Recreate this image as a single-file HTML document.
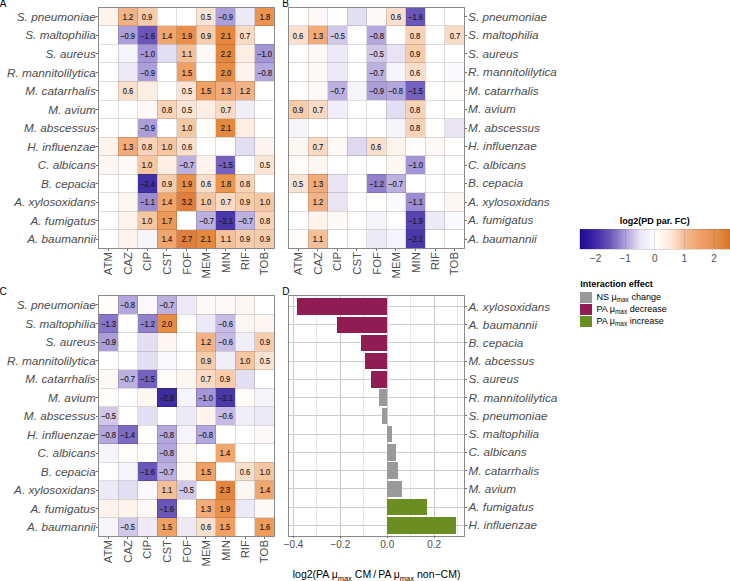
<!DOCTYPE html><html><head><meta charset="utf-8"><style>
html,body{margin:0;padding:0;background:#fff;}
body{width:730px;height:581px;position:relative;overflow:hidden;font-family:"Liberation Sans",sans-serif;}
.cell{position:absolute;box-sizing:border-box;padding-top:0.6px;font-size:8.6px;line-height:18.523076923076925px;text-align:center;color:#1a1a1a;white-space:nowrap;}
.pborder{position:absolute;border:1px solid #8a8a8a;box-sizing:border-box;}
.tickh{position:absolute;width:2.0px;height:1px;background:#6e6e6e;}
.tickv{position:absolute;width:1px;height:2.2px;background:#6e6e6e;}
.ylab{position:absolute;font-size:11.75px;line-height:16px;font-style:italic;color:#4d4d4d;white-space:nowrap;text-align:right;}
.xlab{position:absolute;font-size:11.4px;line-height:16px;color:#4d4d4d;white-space:nowrap;transform-origin:100% 50%;transform:rotate(-90deg);}
.cell i{font-style:normal;display:inline-block;transform:scaleX(0.88);-webkit-text-stroke:0.15px #1a1a1a;}
.gl{position:absolute;background:rgba(0,0,0,0.13);}
.plab{position:absolute;font-size:10px;line-height:10px;color:#000;}
</style></head><body>

<div class="plab" style="left:-0.3px;top:-0.9px;">A</div>
<div class="plab" style="left:282.3px;top:-0.9px;">B</div>
<div class="plab" style="left:-0.5px;top:287.2px;">C</div>
<div class="plab" style="left:282.3px;top:287.2px;">D</div>
<div style="position:absolute;left:98.6px;top:7.4px;width:175.8px;height:240.8px;">
<div class="cell" style="left:0.00px;top:0.00px;width:19.53px;height:18.52px;background:#fef4ed"></div>
<div class="cell" style="left:19.53px;top:0.00px;width:19.53px;height:18.52px;background:#f2b287"><i>1.2</i></div>
<div class="cell" style="left:39.07px;top:0.00px;width:19.53px;height:18.52px;background:#f6ccaa"><i>0.9</i></div>
<div class="cell" style="left:58.60px;top:0.00px;width:19.53px;height:18.52px;background:#ffffff"></div>
<div class="cell" style="left:78.13px;top:0.00px;width:19.53px;height:18.52px;background:#ffffff"></div>
<div class="cell" style="left:97.67px;top:0.00px;width:19.53px;height:18.52px;background:#fbe4d4"><i>0.5</i></div>
<div class="cell" style="left:117.20px;top:0.00px;width:19.53px;height:18.52px;background:#ac9fd9"><i>−0.9</i></div>
<div class="cell" style="left:136.73px;top:0.00px;width:19.53px;height:18.52px;background:#ede9f6"></div>
<div class="cell" style="left:156.27px;top:0.00px;width:19.53px;height:18.52px;background:#ea9450"><i>1.8</i></div>
<div class="cell" style="left:0.00px;top:18.52px;width:19.53px;height:18.52px;background:#ffffff"></div>
<div class="cell" style="left:19.53px;top:18.52px;width:19.53px;height:18.52px;background:#ac9fd9"><i>−0.9</i></div>
<div class="cell" style="left:39.07px;top:18.52px;width:19.53px;height:18.52px;background:#6a55b8"><i>−1.6</i></div>
<div class="cell" style="left:58.60px;top:18.52px;width:19.53px;height:18.52px;background:#f1a66e"><i>1.4</i></div>
<div class="cell" style="left:78.13px;top:18.52px;width:19.53px;height:18.52px;background:#e8904a"><i>1.9</i></div>
<div class="cell" style="left:97.67px;top:18.52px;width:19.53px;height:18.52px;background:#f6ccaa"><i>0.9</i></div>
<div class="cell" style="left:117.20px;top:18.52px;width:19.53px;height:18.52px;background:#e4883e"><i>2.1</i></div>
<div class="cell" style="left:136.73px;top:18.52px;width:19.53px;height:18.52px;background:#f9dac4"><i>0.7</i></div>
<div class="cell" style="left:156.27px;top:18.52px;width:19.53px;height:18.52px;background:#ffffff"></div>
<div class="cell" style="left:0.00px;top:37.05px;width:19.53px;height:18.52px;background:#ffffff"></div>
<div class="cell" style="left:19.53px;top:37.05px;width:19.53px;height:18.52px;background:#f6f4fb"></div>
<div class="cell" style="left:39.07px;top:37.05px;width:19.53px;height:18.52px;background:#a496d6"><i>−1.0</i></div>
<div class="cell" style="left:58.60px;top:37.05px;width:19.53px;height:18.52px;background:#e4def2"></div>
<div class="cell" style="left:78.13px;top:37.05px;width:19.53px;height:18.52px;background:#f4c09a"><i>1.1</i></div>
<div class="cell" style="left:97.67px;top:37.05px;width:19.53px;height:18.52px;background:#fef9f6"></div>
<div class="cell" style="left:117.20px;top:37.05px;width:19.53px;height:18.52px;background:#e3873e"><i>2.2</i></div>
<div class="cell" style="left:136.73px;top:37.05px;width:19.53px;height:18.52px;background:#fdeee4"></div>
<div class="cell" style="left:156.27px;top:37.05px;width:19.53px;height:18.52px;background:#a496d6"><i>−1.0</i></div>
<div class="cell" style="left:0.00px;top:55.57px;width:19.53px;height:18.52px;background:#ffffff"></div>
<div class="cell" style="left:19.53px;top:55.57px;width:19.53px;height:18.52px;background:#ede9f6"></div>
<div class="cell" style="left:39.07px;top:55.57px;width:19.53px;height:18.52px;background:#ac9fd9"><i>−0.9</i></div>
<div class="cell" style="left:58.60px;top:55.57px;width:19.53px;height:18.52px;background:#ffffff"></div>
<div class="cell" style="left:78.13px;top:55.57px;width:19.53px;height:18.52px;background:#f0a062"><i>1.5</i></div>
<div class="cell" style="left:97.67px;top:55.57px;width:19.53px;height:18.52px;background:#ffffff"></div>
<div class="cell" style="left:117.20px;top:55.57px;width:19.53px;height:18.52px;background:#e68c44"><i>2.0</i></div>
<div class="cell" style="left:136.73px;top:55.57px;width:19.53px;height:18.52px;background:#fef4ed"></div>
<div class="cell" style="left:156.27px;top:55.57px;width:19.53px;height:18.52px;background:#b4a7dd"><i>−0.8</i></div>
<div class="cell" style="left:0.00px;top:74.09px;width:19.53px;height:18.52px;background:#ffffff"></div>
<div class="cell" style="left:19.53px;top:74.09px;width:19.53px;height:18.52px;background:#fadfcc"><i>0.6</i></div>
<div class="cell" style="left:39.07px;top:74.09px;width:19.53px;height:18.52px;background:#fdeee4"></div>
<div class="cell" style="left:58.60px;top:74.09px;width:19.53px;height:18.52px;background:#ffffff"></div>
<div class="cell" style="left:78.13px;top:74.09px;width:19.53px;height:18.52px;background:#fbe4d4"><i>0.5</i></div>
<div class="cell" style="left:97.67px;top:74.09px;width:19.53px;height:18.52px;background:#f0a062"><i>1.5</i></div>
<div class="cell" style="left:117.20px;top:74.09px;width:19.53px;height:18.52px;background:#f2ac7b"><i>1.3</i></div>
<div class="cell" style="left:136.73px;top:74.09px;width:19.53px;height:18.52px;background:#f2b287"><i>1.2</i></div>
<div class="cell" style="left:156.27px;top:74.09px;width:19.53px;height:18.52px;background:#ffffff"></div>
<div class="cell" style="left:0.00px;top:92.62px;width:19.53px;height:18.52px;background:#ffffff"></div>
<div class="cell" style="left:19.53px;top:92.62px;width:19.53px;height:18.52px;background:#ffffff"></div>
<div class="cell" style="left:39.07px;top:92.62px;width:19.53px;height:18.52px;background:#fef9f6"></div>
<div class="cell" style="left:58.60px;top:92.62px;width:19.53px;height:18.52px;background:#f8d3b7"><i>0.8</i></div>
<div class="cell" style="left:78.13px;top:92.62px;width:19.53px;height:18.52px;background:#fbe4d4"><i>0.5</i></div>
<div class="cell" style="left:97.67px;top:92.62px;width:19.53px;height:18.52px;background:#fdeee4"></div>
<div class="cell" style="left:117.20px;top:92.62px;width:19.53px;height:18.52px;background:#f9dac4"><i>0.7</i></div>
<div class="cell" style="left:136.73px;top:92.62px;width:19.53px;height:18.52px;background:#f2eef9"></div>
<div class="cell" style="left:156.27px;top:92.62px;width:19.53px;height:18.52px;background:#ffffff"></div>
<div class="cell" style="left:0.00px;top:111.14px;width:19.53px;height:18.52px;background:#ffffff"></div>
<div class="cell" style="left:19.53px;top:111.14px;width:19.53px;height:18.52px;background:#ffffff"></div>
<div class="cell" style="left:39.07px;top:111.14px;width:19.53px;height:18.52px;background:#ac9fd9"><i>−0.9</i></div>
<div class="cell" style="left:58.60px;top:111.14px;width:19.53px;height:18.52px;background:#ffffff"></div>
<div class="cell" style="left:78.13px;top:111.14px;width:19.53px;height:18.52px;background:#f5c6a2"><i>1.0</i></div>
<div class="cell" style="left:97.67px;top:111.14px;width:19.53px;height:18.52px;background:#fffcfa"></div>
<div class="cell" style="left:117.20px;top:111.14px;width:19.53px;height:18.52px;background:#e4883e"><i>2.1</i></div>
<div class="cell" style="left:136.73px;top:111.14px;width:19.53px;height:18.52px;background:#fdeee4"></div>
<div class="cell" style="left:156.27px;top:111.14px;width:19.53px;height:18.52px;background:#ffffff"></div>
<div class="cell" style="left:0.00px;top:129.66px;width:19.53px;height:18.52px;background:#fef4ed"></div>
<div class="cell" style="left:19.53px;top:129.66px;width:19.53px;height:18.52px;background:#f2ac7b"><i>1.3</i></div>
<div class="cell" style="left:39.07px;top:129.66px;width:19.53px;height:18.52px;background:#f8d3b7"><i>0.8</i></div>
<div class="cell" style="left:58.60px;top:129.66px;width:19.53px;height:18.52px;background:#f5c6a2"><i>1.0</i></div>
<div class="cell" style="left:78.13px;top:129.66px;width:19.53px;height:18.52px;background:#fadfcc"><i>0.6</i></div>
<div class="cell" style="left:97.67px;top:129.66px;width:19.53px;height:18.52px;background:#ffffff"></div>
<div class="cell" style="left:117.20px;top:129.66px;width:19.53px;height:18.52px;background:#fffdfc"></div>
<div class="cell" style="left:136.73px;top:129.66px;width:19.53px;height:18.52px;background:#e4def2"></div>
<div class="cell" style="left:156.27px;top:129.66px;width:19.53px;height:18.52px;background:#fef4ed"></div>
<div class="cell" style="left:0.00px;top:148.18px;width:19.53px;height:18.52px;background:#fef6f1"></div>
<div class="cell" style="left:19.53px;top:148.18px;width:19.53px;height:18.52px;background:#fef9f6"></div>
<div class="cell" style="left:39.07px;top:148.18px;width:19.53px;height:18.52px;background:#f5c6a2"><i>1.0</i></div>
<div class="cell" style="left:58.60px;top:148.18px;width:19.53px;height:18.52px;background:#fdeee4"></div>
<div class="cell" style="left:78.13px;top:148.18px;width:19.53px;height:18.52px;background:#bcb0e0"><i>−0.7</i></div>
<div class="cell" style="left:97.67px;top:148.18px;width:19.53px;height:18.52px;background:#fef4ed"></div>
<div class="cell" style="left:117.20px;top:148.18px;width:19.53px;height:18.52px;background:#7460bd"><i>−1.5</i></div>
<div class="cell" style="left:136.73px;top:148.18px;width:19.53px;height:18.52px;background:#ffffff"></div>
<div class="cell" style="left:156.27px;top:148.18px;width:19.53px;height:18.52px;background:#fbe4d4"><i>0.5</i></div>
<div class="cell" style="left:0.00px;top:166.71px;width:19.53px;height:18.52px;background:#ffffff"></div>
<div class="cell" style="left:19.53px;top:166.71px;width:19.53px;height:18.52px;background:#ffffff"></div>
<div class="cell" style="left:39.07px;top:166.71px;width:19.53px;height:18.52px;background:#4231a3"><i>−2.4</i></div>
<div class="cell" style="left:58.60px;top:166.71px;width:19.53px;height:18.52px;background:#f6ccaa"><i>0.9</i></div>
<div class="cell" style="left:78.13px;top:166.71px;width:19.53px;height:18.52px;background:#e8904a"><i>1.9</i></div>
<div class="cell" style="left:97.67px;top:166.71px;width:19.53px;height:18.52px;background:#fadfcc"><i>0.6</i></div>
<div class="cell" style="left:117.20px;top:166.71px;width:19.53px;height:18.52px;background:#ea9450"><i>1.8</i></div>
<div class="cell" style="left:136.73px;top:166.71px;width:19.53px;height:18.52px;background:#f8d3b7"><i>0.8</i></div>
<div class="cell" style="left:156.27px;top:166.71px;width:19.53px;height:18.52px;background:#ffffff"></div>
<div class="cell" style="left:0.00px;top:185.23px;width:19.53px;height:18.52px;background:#ffffff"></div>
<div class="cell" style="left:19.53px;top:185.23px;width:19.53px;height:18.52px;background:#fef6f1"></div>
<div class="cell" style="left:39.07px;top:185.23px;width:19.53px;height:18.52px;background:#9b8bd1"><i>−1.1</i></div>
<div class="cell" style="left:58.60px;top:185.23px;width:19.53px;height:18.52px;background:#f1a66e"><i>1.4</i></div>
<div class="cell" style="left:78.13px;top:185.23px;width:19.53px;height:18.52px;background:#de7f3e"><i>3.2</i></div>
<div class="cell" style="left:97.67px;top:185.23px;width:19.53px;height:18.52px;background:#f5c6a2"><i>1.0</i></div>
<div class="cell" style="left:117.20px;top:185.23px;width:19.53px;height:18.52px;background:#f9dac4"><i>0.7</i></div>
<div class="cell" style="left:136.73px;top:185.23px;width:19.53px;height:18.52px;background:#f6ccaa"><i>0.9</i></div>
<div class="cell" style="left:156.27px;top:185.23px;width:19.53px;height:18.52px;background:#f5c6a2"><i>1.0</i></div>
<div class="cell" style="left:0.00px;top:203.75px;width:19.53px;height:18.52px;background:#ffffff"></div>
<div class="cell" style="left:19.53px;top:203.75px;width:19.53px;height:18.52px;background:#fef4ed"></div>
<div class="cell" style="left:39.07px;top:203.75px;width:19.53px;height:18.52px;background:#f5c6a2"><i>1.0</i></div>
<div class="cell" style="left:58.60px;top:203.75px;width:19.53px;height:18.52px;background:#ec9856"><i>1.7</i></div>
<div class="cell" style="left:78.13px;top:203.75px;width:19.53px;height:18.52px;background:#ffffff"></div>
<div class="cell" style="left:97.67px;top:203.75px;width:19.53px;height:18.52px;background:#bcb0e0"><i>−0.7</i></div>
<div class="cell" style="left:117.20px;top:203.75px;width:19.53px;height:18.52px;background:#4a38a8"><i>−2.1</i></div>
<div class="cell" style="left:136.73px;top:203.75px;width:19.53px;height:18.52px;background:#bcb0e0"><i>−0.7</i></div>
<div class="cell" style="left:156.27px;top:203.75px;width:19.53px;height:18.52px;background:#f8d3b7"><i>0.8</i></div>
<div class="cell" style="left:0.00px;top:222.28px;width:19.53px;height:18.52px;background:#ffffff"></div>
<div class="cell" style="left:19.53px;top:222.28px;width:19.53px;height:18.52px;background:#fef4ed"></div>
<div class="cell" style="left:39.07px;top:222.28px;width:19.53px;height:18.52px;background:#f6f4fb"></div>
<div class="cell" style="left:58.60px;top:222.28px;width:19.53px;height:18.52px;background:#f1a66e"><i>1.4</i></div>
<div class="cell" style="left:78.13px;top:222.28px;width:19.53px;height:18.52px;background:#de7f3e"><i>2.7</i></div>
<div class="cell" style="left:97.67px;top:222.28px;width:19.53px;height:18.52px;background:#e4883e"><i>2.1</i></div>
<div class="cell" style="left:117.20px;top:222.28px;width:19.53px;height:18.52px;background:#f4c09a"><i>1.1</i></div>
<div class="cell" style="left:136.73px;top:222.28px;width:19.53px;height:18.52px;background:#f6ccaa"><i>0.9</i></div>
<div class="cell" style="left:156.27px;top:222.28px;width:19.53px;height:18.52px;background:#f6ccaa"><i>0.9</i></div>
<div class="gl" style="left:19.03px;top:0;width:1px;height:240.80px"></div>
<div class="gl" style="left:38.57px;top:0;width:1px;height:240.80px"></div>
<div class="gl" style="left:58.10px;top:0;width:1px;height:240.80px"></div>
<div class="gl" style="left:77.63px;top:0;width:1px;height:240.80px"></div>
<div class="gl" style="left:97.17px;top:0;width:1px;height:240.80px"></div>
<div class="gl" style="left:116.70px;top:0;width:1px;height:240.80px"></div>
<div class="gl" style="left:136.23px;top:0;width:1px;height:240.80px"></div>
<div class="gl" style="left:155.77px;top:0;width:1px;height:240.80px"></div>
<div class="gl" style="left:0;top:18.02px;width:175.80px;height:1px"></div>
<div class="gl" style="left:0;top:36.55px;width:175.80px;height:1px"></div>
<div class="gl" style="left:0;top:55.07px;width:175.80px;height:1px"></div>
<div class="gl" style="left:0;top:73.59px;width:175.80px;height:1px"></div>
<div class="gl" style="left:0;top:92.12px;width:175.80px;height:1px"></div>
<div class="gl" style="left:0;top:110.64px;width:175.80px;height:1px"></div>
<div class="gl" style="left:0;top:129.16px;width:175.80px;height:1px"></div>
<div class="gl" style="left:0;top:147.68px;width:175.80px;height:1px"></div>
<div class="gl" style="left:0;top:166.21px;width:175.80px;height:1px"></div>
<div class="gl" style="left:0;top:184.73px;width:175.80px;height:1px"></div>
<div class="gl" style="left:0;top:203.25px;width:175.80px;height:1px"></div>
<div class="gl" style="left:0;top:221.78px;width:175.80px;height:1px"></div>
</div>
<div class="pborder" style="left:98.1px;top:6.9px;width:176.8px;height:241.8px;"></div>
<div class="tickh" style="left:96.1px;top:16.36px;"></div>
<div class="ylab" style="right:634.20px;top:8.96px;">S. pneumoniae</div>
<div class="tickh" style="left:96.1px;top:34.88px;"></div>
<div class="ylab" style="right:634.20px;top:27.48px;">S. maltophilia</div>
<div class="tickh" style="left:96.1px;top:53.41px;"></div>
<div class="ylab" style="right:634.20px;top:46.01px;">S. aureus</div>
<div class="tickh" style="left:96.1px;top:71.93px;"></div>
<div class="ylab" style="right:634.20px;top:64.53px;">R. mannitolilytica</div>
<div class="tickh" style="left:96.1px;top:90.45px;"></div>
<div class="ylab" style="right:634.20px;top:83.05px;">M. catarrhalis</div>
<div class="tickh" style="left:96.1px;top:108.98px;"></div>
<div class="ylab" style="right:634.20px;top:101.58px;">M. avium</div>
<div class="tickh" style="left:96.1px;top:127.50px;"></div>
<div class="ylab" style="right:634.20px;top:120.10px;">M. abscessus</div>
<div class="tickh" style="left:96.1px;top:146.02px;"></div>
<div class="ylab" style="right:634.20px;top:138.62px;">H. influenzae</div>
<div class="tickh" style="left:96.1px;top:164.55px;"></div>
<div class="ylab" style="right:634.20px;top:157.15px;">C. albicans</div>
<div class="tickh" style="left:96.1px;top:183.07px;"></div>
<div class="ylab" style="right:634.20px;top:175.67px;">B. cepacia</div>
<div class="tickh" style="left:96.1px;top:201.59px;"></div>
<div class="ylab" style="right:634.20px;top:194.19px;">A. xylosoxidans</div>
<div class="tickh" style="left:96.1px;top:220.12px;"></div>
<div class="ylab" style="right:634.20px;top:212.72px;">A. fumigatus</div>
<div class="tickh" style="left:96.1px;top:238.64px;"></div>
<div class="ylab" style="right:634.20px;top:231.24px;">A. baumannii</div>
<div class="tickv" style="left:107.87px;top:248.70000000000002px;"></div>
<div class="xlab" style="right:621.63px;top:243.80px;">ATM</div>
<div class="tickv" style="left:127.40px;top:248.70000000000002px;"></div>
<div class="xlab" style="right:602.10px;top:243.80px;">CAZ</div>
<div class="tickv" style="left:146.93px;top:248.70000000000002px;"></div>
<div class="xlab" style="right:582.57px;top:243.80px;">CIP</div>
<div class="tickv" style="left:166.47px;top:248.70000000000002px;"></div>
<div class="xlab" style="right:563.03px;top:243.80px;">CST</div>
<div class="tickv" style="left:186.00px;top:248.70000000000002px;"></div>
<div class="xlab" style="right:543.50px;top:243.80px;">FOF</div>
<div class="tickv" style="left:205.53px;top:248.70000000000002px;"></div>
<div class="xlab" style="right:523.97px;top:243.80px;">MEM</div>
<div class="tickv" style="left:225.07px;top:248.70000000000002px;"></div>
<div class="xlab" style="right:504.43px;top:243.80px;">MIN</div>
<div class="tickv" style="left:244.60px;top:248.70000000000002px;"></div>
<div class="xlab" style="right:484.90px;top:243.80px;">RIF</div>
<div class="tickv" style="left:264.13px;top:248.70000000000002px;"></div>
<div class="xlab" style="right:465.37px;top:243.80px;">TOB</div>
<div style="position:absolute;left:288.5px;top:7.4px;width:175.8px;height:240.8px;">
<div class="cell" style="left:0.00px;top:0.00px;width:19.53px;height:18.52px;background:#ffffff"></div>
<div class="cell" style="left:19.53px;top:0.00px;width:19.53px;height:18.52px;background:#fef9f6"></div>
<div class="cell" style="left:39.07px;top:0.00px;width:19.53px;height:18.52px;background:#ffffff"></div>
<div class="cell" style="left:58.60px;top:0.00px;width:19.53px;height:18.52px;background:#e4def2"></div>
<div class="cell" style="left:78.13px;top:0.00px;width:19.53px;height:18.52px;background:#fef9f6"></div>
<div class="cell" style="left:97.67px;top:0.00px;width:19.53px;height:18.52px;background:#fadfcc"><i>0.6</i></div>
<div class="cell" style="left:117.20px;top:0.00px;width:19.53px;height:18.52px;background:#6a55b8"><i>−1.6</i></div>
<div class="cell" style="left:136.73px;top:0.00px;width:19.53px;height:18.52px;background:#ffffff"></div>
<div class="cell" style="left:156.27px;top:0.00px;width:19.53px;height:18.52px;background:#ffffff"></div>
<div class="cell" style="left:0.00px;top:18.52px;width:19.53px;height:18.52px;background:#fadfcc"><i>0.6</i></div>
<div class="cell" style="left:19.53px;top:18.52px;width:19.53px;height:18.52px;background:#f2ac7b"><i>1.3</i></div>
<div class="cell" style="left:39.07px;top:18.52px;width:19.53px;height:18.52px;background:#d0c7e9"><i>−0.5</i></div>
<div class="cell" style="left:58.60px;top:18.52px;width:19.53px;height:18.52px;background:#ffffff"></div>
<div class="cell" style="left:78.13px;top:18.52px;width:19.53px;height:18.52px;background:#b4a7dd"><i>−0.8</i></div>
<div class="cell" style="left:97.67px;top:18.52px;width:19.53px;height:18.52px;background:#ffffff"></div>
<div class="cell" style="left:117.20px;top:18.52px;width:19.53px;height:18.52px;background:#f8d3b7"><i>0.8</i></div>
<div class="cell" style="left:136.73px;top:18.52px;width:19.53px;height:18.52px;background:#ffffff"></div>
<div class="cell" style="left:156.27px;top:18.52px;width:19.53px;height:18.52px;background:#f9dac4"><i>0.7</i></div>
<div class="cell" style="left:0.00px;top:37.05px;width:19.53px;height:18.52px;background:#ffffff"></div>
<div class="cell" style="left:19.53px;top:37.05px;width:19.53px;height:18.52px;background:#fef9f6"></div>
<div class="cell" style="left:39.07px;top:37.05px;width:19.53px;height:18.52px;background:#ede9f6"></div>
<div class="cell" style="left:58.60px;top:37.05px;width:19.53px;height:18.52px;background:#ffffff"></div>
<div class="cell" style="left:78.13px;top:37.05px;width:19.53px;height:18.52px;background:#d0c7e9"><i>−0.5</i></div>
<div class="cell" style="left:97.67px;top:37.05px;width:19.53px;height:18.52px;background:#e9e3f4"></div>
<div class="cell" style="left:117.20px;top:37.05px;width:19.53px;height:18.52px;background:#f6ccaa"><i>0.9</i></div>
<div class="cell" style="left:136.73px;top:37.05px;width:19.53px;height:18.52px;background:#ffffff"></div>
<div class="cell" style="left:156.27px;top:37.05px;width:19.53px;height:18.52px;background:#ffffff"></div>
<div class="cell" style="left:0.00px;top:55.57px;width:19.53px;height:18.52px;background:#ffffff"></div>
<div class="cell" style="left:19.53px;top:55.57px;width:19.53px;height:18.52px;background:#fef9f6"></div>
<div class="cell" style="left:39.07px;top:55.57px;width:19.53px;height:18.52px;background:#ede9f6"></div>
<div class="cell" style="left:58.60px;top:55.57px;width:19.53px;height:18.52px;background:#ffffff"></div>
<div class="cell" style="left:78.13px;top:55.57px;width:19.53px;height:18.52px;background:#bcb0e0"><i>−0.7</i></div>
<div class="cell" style="left:97.67px;top:55.57px;width:19.53px;height:18.52px;background:#f6f4fb"></div>
<div class="cell" style="left:117.20px;top:55.57px;width:19.53px;height:18.52px;background:#fadfcc"><i>0.6</i></div>
<div class="cell" style="left:136.73px;top:55.57px;width:19.53px;height:18.52px;background:#ffffff"></div>
<div class="cell" style="left:156.27px;top:55.57px;width:19.53px;height:18.52px;background:#fbf9fd"></div>
<div class="cell" style="left:0.00px;top:74.09px;width:19.53px;height:18.52px;background:#ffffff"></div>
<div class="cell" style="left:19.53px;top:74.09px;width:19.53px;height:18.52px;background:#fef9f6"></div>
<div class="cell" style="left:39.07px;top:74.09px;width:19.53px;height:18.52px;background:#bcb0e0"><i>−0.7</i></div>
<div class="cell" style="left:58.60px;top:74.09px;width:19.53px;height:18.52px;background:#f6f4fb"></div>
<div class="cell" style="left:78.13px;top:74.09px;width:19.53px;height:18.52px;background:#ac9fd9"><i>−0.9</i></div>
<div class="cell" style="left:97.67px;top:74.09px;width:19.53px;height:18.52px;background:#b4a7dd"><i>−0.8</i></div>
<div class="cell" style="left:117.20px;top:74.09px;width:19.53px;height:18.52px;background:#7460bd"><i>−1.5</i></div>
<div class="cell" style="left:136.73px;top:74.09px;width:19.53px;height:18.52px;background:#ffffff"></div>
<div class="cell" style="left:156.27px;top:74.09px;width:19.53px;height:18.52px;background:#fffcfa"></div>
<div class="cell" style="left:0.00px;top:92.62px;width:19.53px;height:18.52px;background:#f6ccaa"><i>0.9</i></div>
<div class="cell" style="left:19.53px;top:92.62px;width:19.53px;height:18.52px;background:#f9dac4"><i>0.7</i></div>
<div class="cell" style="left:39.07px;top:92.62px;width:19.53px;height:18.52px;background:#f2eef9"></div>
<div class="cell" style="left:58.60px;top:92.62px;width:19.53px;height:18.52px;background:#ffffff"></div>
<div class="cell" style="left:78.13px;top:92.62px;width:19.53px;height:18.52px;background:#ffffff"></div>
<div class="cell" style="left:97.67px;top:92.62px;width:19.53px;height:18.52px;background:#e4def2"></div>
<div class="cell" style="left:117.20px;top:92.62px;width:19.53px;height:18.52px;background:#f8d3b7"><i>0.8</i></div>
<div class="cell" style="left:136.73px;top:92.62px;width:19.53px;height:18.52px;background:#ffffff"></div>
<div class="cell" style="left:156.27px;top:92.62px;width:19.53px;height:18.52px;background:#ffffff"></div>
<div class="cell" style="left:0.00px;top:111.14px;width:19.53px;height:18.52px;background:#f6f4fb"></div>
<div class="cell" style="left:19.53px;top:111.14px;width:19.53px;height:18.52px;background:#ffffff"></div>
<div class="cell" style="left:39.07px;top:111.14px;width:19.53px;height:18.52px;background:#ffffff"></div>
<div class="cell" style="left:58.60px;top:111.14px;width:19.53px;height:18.52px;background:#ffffff"></div>
<div class="cell" style="left:78.13px;top:111.14px;width:19.53px;height:18.52px;background:#ffffff"></div>
<div class="cell" style="left:97.67px;top:111.14px;width:19.53px;height:18.52px;background:#f6f4fb"></div>
<div class="cell" style="left:117.20px;top:111.14px;width:19.53px;height:18.52px;background:#f8d3b7"><i>0.8</i></div>
<div class="cell" style="left:136.73px;top:111.14px;width:19.53px;height:18.52px;background:#ffffff"></div>
<div class="cell" style="left:156.27px;top:111.14px;width:19.53px;height:18.52px;background:#e9e3f4"></div>
<div class="cell" style="left:0.00px;top:129.66px;width:19.53px;height:18.52px;background:#fef6f1"></div>
<div class="cell" style="left:19.53px;top:129.66px;width:19.53px;height:18.52px;background:#f9dac4"><i>0.7</i></div>
<div class="cell" style="left:39.07px;top:129.66px;width:19.53px;height:18.52px;background:#fef9f6"></div>
<div class="cell" style="left:58.60px;top:129.66px;width:19.53px;height:18.52px;background:#dfd8f0"></div>
<div class="cell" style="left:78.13px;top:129.66px;width:19.53px;height:18.52px;background:#fadfcc"><i>0.6</i></div>
<div class="cell" style="left:97.67px;top:129.66px;width:19.53px;height:18.52px;background:#fef4ed"></div>
<div class="cell" style="left:117.20px;top:129.66px;width:19.53px;height:18.52px;background:#fffcfa"></div>
<div class="cell" style="left:136.73px;top:129.66px;width:19.53px;height:18.52px;background:#fef9f6"></div>
<div class="cell" style="left:156.27px;top:129.66px;width:19.53px;height:18.52px;background:#ffffff"></div>
<div class="cell" style="left:0.00px;top:148.18px;width:19.53px;height:18.52px;background:#fffcfa"></div>
<div class="cell" style="left:19.53px;top:148.18px;width:19.53px;height:18.52px;background:#fef6f1"></div>
<div class="cell" style="left:39.07px;top:148.18px;width:19.53px;height:18.52px;background:#ffffff"></div>
<div class="cell" style="left:58.60px;top:148.18px;width:19.53px;height:18.52px;background:#ffffff"></div>
<div class="cell" style="left:78.13px;top:148.18px;width:19.53px;height:18.52px;background:#ffffff"></div>
<div class="cell" style="left:97.67px;top:148.18px;width:19.53px;height:18.52px;background:#fef6f1"></div>
<div class="cell" style="left:117.20px;top:148.18px;width:19.53px;height:18.52px;background:#a496d6"><i>−1.0</i></div>
<div class="cell" style="left:136.73px;top:148.18px;width:19.53px;height:18.52px;background:#ffffff"></div>
<div class="cell" style="left:156.27px;top:148.18px;width:19.53px;height:18.52px;background:#ffffff"></div>
<div class="cell" style="left:0.00px;top:166.71px;width:19.53px;height:18.52px;background:#fbe4d4"><i>0.5</i></div>
<div class="cell" style="left:19.53px;top:166.71px;width:19.53px;height:18.52px;background:#f2ac7b"><i>1.3</i></div>
<div class="cell" style="left:39.07px;top:166.71px;width:19.53px;height:18.52px;background:#e9e3f4"></div>
<div class="cell" style="left:58.60px;top:166.71px;width:19.53px;height:18.52px;background:#ffffff"></div>
<div class="cell" style="left:78.13px;top:166.71px;width:19.53px;height:18.52px;background:#9180cc"><i>−1.2</i></div>
<div class="cell" style="left:97.67px;top:166.71px;width:19.53px;height:18.52px;background:#bcb0e0"><i>−0.7</i></div>
<div class="cell" style="left:117.20px;top:166.71px;width:19.53px;height:18.52px;background:#ffffff"></div>
<div class="cell" style="left:136.73px;top:166.71px;width:19.53px;height:18.52px;background:#ffffff"></div>
<div class="cell" style="left:156.27px;top:166.71px;width:19.53px;height:18.52px;background:#ffffff"></div>
<div class="cell" style="left:0.00px;top:185.23px;width:19.53px;height:18.52px;background:#ffffff"></div>
<div class="cell" style="left:19.53px;top:185.23px;width:19.53px;height:18.52px;background:#f2b287"><i>1.2</i></div>
<div class="cell" style="left:39.07px;top:185.23px;width:19.53px;height:18.52px;background:#e9e3f4"></div>
<div class="cell" style="left:58.60px;top:185.23px;width:19.53px;height:18.52px;background:#ffffff"></div>
<div class="cell" style="left:78.13px;top:185.23px;width:19.53px;height:18.52px;background:#ffffff"></div>
<div class="cell" style="left:97.67px;top:185.23px;width:19.53px;height:18.52px;background:#fbf9fd"></div>
<div class="cell" style="left:117.20px;top:185.23px;width:19.53px;height:18.52px;background:#9b8bd1"><i>−1.1</i></div>
<div class="cell" style="left:136.73px;top:185.23px;width:19.53px;height:18.52px;background:#ffffff"></div>
<div class="cell" style="left:156.27px;top:185.23px;width:19.53px;height:18.52px;background:#fef6f1"></div>
<div class="cell" style="left:0.00px;top:203.75px;width:19.53px;height:18.52px;background:#ffffff"></div>
<div class="cell" style="left:19.53px;top:203.75px;width:19.53px;height:18.52px;background:#fef4ed"></div>
<div class="cell" style="left:39.07px;top:203.75px;width:19.53px;height:18.52px;background:#fef9f6"></div>
<div class="cell" style="left:58.60px;top:203.75px;width:19.53px;height:18.52px;background:#ffffff"></div>
<div class="cell" style="left:78.13px;top:203.75px;width:19.53px;height:18.52px;background:#f6f4fb"></div>
<div class="cell" style="left:97.67px;top:203.75px;width:19.53px;height:18.52px;background:#ffffff"></div>
<div class="cell" style="left:117.20px;top:203.75px;width:19.53px;height:18.52px;background:#5744ae"><i>−1.9</i></div>
<div class="cell" style="left:136.73px;top:203.75px;width:19.53px;height:18.52px;background:#ede9f6"></div>
<div class="cell" style="left:156.27px;top:203.75px;width:19.53px;height:18.52px;background:#fbf9fd"></div>
<div class="cell" style="left:0.00px;top:222.28px;width:19.53px;height:18.52px;background:#fffcfa"></div>
<div class="cell" style="left:19.53px;top:222.28px;width:19.53px;height:18.52px;background:#f4c09a"><i>1.1</i></div>
<div class="cell" style="left:39.07px;top:222.28px;width:19.53px;height:18.52px;background:#ffffff"></div>
<div class="cell" style="left:58.60px;top:222.28px;width:19.53px;height:18.52px;background:#ffffff"></div>
<div class="cell" style="left:78.13px;top:222.28px;width:19.53px;height:18.52px;background:#ede9f6"></div>
<div class="cell" style="left:97.67px;top:222.28px;width:19.53px;height:18.52px;background:#f6f4fb"></div>
<div class="cell" style="left:117.20px;top:222.28px;width:19.53px;height:18.52px;background:#4a38a8"><i>−2.1</i></div>
<div class="cell" style="left:136.73px;top:222.28px;width:19.53px;height:18.52px;background:#ffffff"></div>
<div class="cell" style="left:156.27px;top:222.28px;width:19.53px;height:18.52px;background:#ffffff"></div>
<div class="gl" style="left:19.03px;top:0;width:1px;height:240.80px"></div>
<div class="gl" style="left:38.57px;top:0;width:1px;height:240.80px"></div>
<div class="gl" style="left:58.10px;top:0;width:1px;height:240.80px"></div>
<div class="gl" style="left:77.63px;top:0;width:1px;height:240.80px"></div>
<div class="gl" style="left:97.17px;top:0;width:1px;height:240.80px"></div>
<div class="gl" style="left:116.70px;top:0;width:1px;height:240.80px"></div>
<div class="gl" style="left:136.23px;top:0;width:1px;height:240.80px"></div>
<div class="gl" style="left:155.77px;top:0;width:1px;height:240.80px"></div>
<div class="gl" style="left:0;top:18.02px;width:175.80px;height:1px"></div>
<div class="gl" style="left:0;top:36.55px;width:175.80px;height:1px"></div>
<div class="gl" style="left:0;top:55.07px;width:175.80px;height:1px"></div>
<div class="gl" style="left:0;top:73.59px;width:175.80px;height:1px"></div>
<div class="gl" style="left:0;top:92.12px;width:175.80px;height:1px"></div>
<div class="gl" style="left:0;top:110.64px;width:175.80px;height:1px"></div>
<div class="gl" style="left:0;top:129.16px;width:175.80px;height:1px"></div>
<div class="gl" style="left:0;top:147.68px;width:175.80px;height:1px"></div>
<div class="gl" style="left:0;top:166.21px;width:175.80px;height:1px"></div>
<div class="gl" style="left:0;top:184.73px;width:175.80px;height:1px"></div>
<div class="gl" style="left:0;top:203.25px;width:175.80px;height:1px"></div>
<div class="gl" style="left:0;top:221.78px;width:175.80px;height:1px"></div>
</div>
<div class="pborder" style="left:288.0px;top:6.9px;width:176.8px;height:241.8px;"></div>
<div class="tickh" style="left:464.8px;top:16.36px;"></div>
<div class="ylab" style="left:468.10px;top:8.66px;text-align:left">S. pneumoniae</div>
<div class="tickh" style="left:464.8px;top:34.88px;"></div>
<div class="ylab" style="left:468.10px;top:27.18px;text-align:left">S. maltophilia</div>
<div class="tickh" style="left:464.8px;top:53.41px;"></div>
<div class="ylab" style="left:468.10px;top:45.71px;text-align:left">S. aureus</div>
<div class="tickh" style="left:464.8px;top:71.93px;"></div>
<div class="ylab" style="left:468.10px;top:64.23px;text-align:left">R. mannitolilytica</div>
<div class="tickh" style="left:464.8px;top:90.45px;"></div>
<div class="ylab" style="left:468.10px;top:82.75px;text-align:left">M. catarrhalis</div>
<div class="tickh" style="left:464.8px;top:108.98px;"></div>
<div class="ylab" style="left:468.10px;top:101.28px;text-align:left">M. avium</div>
<div class="tickh" style="left:464.8px;top:127.50px;"></div>
<div class="ylab" style="left:468.10px;top:119.80px;text-align:left">M. abscessus</div>
<div class="tickh" style="left:464.8px;top:146.02px;"></div>
<div class="ylab" style="left:468.10px;top:138.32px;text-align:left">H. influenzae</div>
<div class="tickh" style="left:464.8px;top:164.55px;"></div>
<div class="ylab" style="left:468.10px;top:156.85px;text-align:left">C. albicans</div>
<div class="tickh" style="left:464.8px;top:183.07px;"></div>
<div class="ylab" style="left:468.10px;top:175.37px;text-align:left">B. cepacia</div>
<div class="tickh" style="left:464.8px;top:201.59px;"></div>
<div class="ylab" style="left:468.10px;top:193.89px;text-align:left">A. xylosoxidans</div>
<div class="tickh" style="left:464.8px;top:220.12px;"></div>
<div class="ylab" style="left:468.10px;top:212.42px;text-align:left">A. fumigatus</div>
<div class="tickh" style="left:464.8px;top:238.64px;"></div>
<div class="ylab" style="left:468.10px;top:230.94px;text-align:left">A. baumannii</div>
<div class="tickv" style="left:297.77px;top:248.70000000000002px;"></div>
<div class="xlab" style="right:431.73px;top:243.80px;">ATM</div>
<div class="tickv" style="left:317.30px;top:248.70000000000002px;"></div>
<div class="xlab" style="right:412.20px;top:243.80px;">CAZ</div>
<div class="tickv" style="left:336.83px;top:248.70000000000002px;"></div>
<div class="xlab" style="right:392.67px;top:243.80px;">CIP</div>
<div class="tickv" style="left:356.37px;top:248.70000000000002px;"></div>
<div class="xlab" style="right:373.13px;top:243.80px;">CST</div>
<div class="tickv" style="left:375.90px;top:248.70000000000002px;"></div>
<div class="xlab" style="right:353.60px;top:243.80px;">FOF</div>
<div class="tickv" style="left:395.43px;top:248.70000000000002px;"></div>
<div class="xlab" style="right:334.07px;top:243.80px;">MEM</div>
<div class="tickv" style="left:414.97px;top:248.70000000000002px;"></div>
<div class="xlab" style="right:314.53px;top:243.80px;">MIN</div>
<div class="tickv" style="left:434.50px;top:248.70000000000002px;"></div>
<div class="xlab" style="right:295.00px;top:243.80px;">RIF</div>
<div class="tickv" style="left:454.03px;top:248.70000000000002px;"></div>
<div class="xlab" style="right:275.47px;top:243.80px;">TOB</div>
<div style="position:absolute;left:98.5px;top:295.5px;width:175.8px;height:240.8px;">
<div class="cell" style="left:0.00px;top:0.00px;width:19.53px;height:18.52px;background:#fffcfa"></div>
<div class="cell" style="left:19.53px;top:0.00px;width:19.53px;height:18.52px;background:#b4a7dd"><i>−0.8</i></div>
<div class="cell" style="left:39.07px;top:0.00px;width:19.53px;height:18.52px;background:#fbf9fd"></div>
<div class="cell" style="left:58.60px;top:0.00px;width:19.53px;height:18.52px;background:#bcb0e0"><i>−0.7</i></div>
<div class="cell" style="left:78.13px;top:0.00px;width:19.53px;height:18.52px;background:#ede9f6"></div>
<div class="cell" style="left:97.67px;top:0.00px;width:19.53px;height:18.52px;background:#fef9f6"></div>
<div class="cell" style="left:117.20px;top:0.00px;width:19.53px;height:18.52px;background:#fef9f6"></div>
<div class="cell" style="left:136.73px;top:0.00px;width:19.53px;height:18.52px;background:#fef6f1"></div>
<div class="cell" style="left:156.27px;top:0.00px;width:19.53px;height:18.52px;background:#ffffff"></div>
<div class="cell" style="left:0.00px;top:18.52px;width:19.53px;height:18.52px;background:#8875c7"><i>−1.3</i></div>
<div class="cell" style="left:19.53px;top:18.52px;width:19.53px;height:18.52px;background:#ffffff"></div>
<div class="cell" style="left:39.07px;top:18.52px;width:19.53px;height:18.52px;background:#9180cc"><i>−1.2</i></div>
<div class="cell" style="left:58.60px;top:18.52px;width:19.53px;height:18.52px;background:#e68c44"><i>2.0</i></div>
<div class="cell" style="left:78.13px;top:18.52px;width:19.53px;height:18.52px;background:#ffffff"></div>
<div class="cell" style="left:97.67px;top:18.52px;width:19.53px;height:18.52px;background:#ede9f6"></div>
<div class="cell" style="left:117.20px;top:18.52px;width:19.53px;height:18.52px;background:#c6bbe5"><i>−0.6</i></div>
<div class="cell" style="left:136.73px;top:18.52px;width:19.53px;height:18.52px;background:#fef6f1"></div>
<div class="cell" style="left:156.27px;top:18.52px;width:19.53px;height:18.52px;background:#fef6f1"></div>
<div class="cell" style="left:0.00px;top:37.05px;width:19.53px;height:18.52px;background:#ac9fd9"><i>−0.9</i></div>
<div class="cell" style="left:19.53px;top:37.05px;width:19.53px;height:18.52px;background:#ffffff"></div>
<div class="cell" style="left:39.07px;top:37.05px;width:19.53px;height:18.52px;background:#e4def2"></div>
<div class="cell" style="left:58.60px;top:37.05px;width:19.53px;height:18.52px;background:#fef6f1"></div>
<div class="cell" style="left:78.13px;top:37.05px;width:19.53px;height:18.52px;background:#ffffff"></div>
<div class="cell" style="left:97.67px;top:37.05px;width:19.53px;height:18.52px;background:#f2b287"><i>1.2</i></div>
<div class="cell" style="left:117.20px;top:37.05px;width:19.53px;height:18.52px;background:#c6bbe5"><i>−0.6</i></div>
<div class="cell" style="left:136.73px;top:37.05px;width:19.53px;height:18.52px;background:#f2eef9"></div>
<div class="cell" style="left:156.27px;top:37.05px;width:19.53px;height:18.52px;background:#f6ccaa"><i>0.9</i></div>
<div class="cell" style="left:0.00px;top:55.57px;width:19.53px;height:18.52px;background:#ffffff"></div>
<div class="cell" style="left:19.53px;top:55.57px;width:19.53px;height:18.52px;background:#ffffff"></div>
<div class="cell" style="left:39.07px;top:55.57px;width:19.53px;height:18.52px;background:#e4def2"></div>
<div class="cell" style="left:58.60px;top:55.57px;width:19.53px;height:18.52px;background:#fbf9fd"></div>
<div class="cell" style="left:78.13px;top:55.57px;width:19.53px;height:18.52px;background:#ffffff"></div>
<div class="cell" style="left:97.67px;top:55.57px;width:19.53px;height:18.52px;background:#f6ccaa"><i>0.9</i></div>
<div class="cell" style="left:117.20px;top:55.57px;width:19.53px;height:18.52px;background:#f2eef9"></div>
<div class="cell" style="left:136.73px;top:55.57px;width:19.53px;height:18.52px;background:#f5c6a2"><i>1.0</i></div>
<div class="cell" style="left:156.27px;top:55.57px;width:19.53px;height:18.52px;background:#fbe4d4"><i>0.5</i></div>
<div class="cell" style="left:0.00px;top:74.09px;width:19.53px;height:18.52px;background:#fef9f6"></div>
<div class="cell" style="left:19.53px;top:74.09px;width:19.53px;height:18.52px;background:#bcb0e0"><i>−0.7</i></div>
<div class="cell" style="left:39.07px;top:74.09px;width:19.53px;height:18.52px;background:#7460bd"><i>−1.5</i></div>
<div class="cell" style="left:58.60px;top:74.09px;width:19.53px;height:18.52px;background:#fffcfa"></div>
<div class="cell" style="left:78.13px;top:74.09px;width:19.53px;height:18.52px;background:#fef6f1"></div>
<div class="cell" style="left:97.67px;top:74.09px;width:19.53px;height:18.52px;background:#f9dac4"><i>0.7</i></div>
<div class="cell" style="left:117.20px;top:74.09px;width:19.53px;height:18.52px;background:#f6ccaa"><i>0.9</i></div>
<div class="cell" style="left:136.73px;top:74.09px;width:19.53px;height:18.52px;background:#e4def2"></div>
<div class="cell" style="left:156.27px;top:74.09px;width:19.53px;height:18.52px;background:#ffffff"></div>
<div class="cell" style="left:0.00px;top:92.62px;width:19.53px;height:18.52px;background:#fffcfa"></div>
<div class="cell" style="left:19.53px;top:92.62px;width:19.53px;height:18.52px;background:#ffffff"></div>
<div class="cell" style="left:39.07px;top:92.62px;width:19.53px;height:18.52px;background:#fef6f1"></div>
<div class="cell" style="left:58.60px;top:92.62px;width:19.53px;height:18.52px;background:#3c2ca0"><i>−2.8</i></div>
<div class="cell" style="left:78.13px;top:92.62px;width:19.53px;height:18.52px;background:#f6f4fb"></div>
<div class="cell" style="left:97.67px;top:92.62px;width:19.53px;height:18.52px;background:#a496d6"><i>−1.0</i></div>
<div class="cell" style="left:117.20px;top:92.62px;width:19.53px;height:18.52px;background:#4a38a8"><i>−2.1</i></div>
<div class="cell" style="left:136.73px;top:92.62px;width:19.53px;height:18.52px;background:#fffcfa"></div>
<div class="cell" style="left:156.27px;top:92.62px;width:19.53px;height:18.52px;background:#f6f4fb"></div>
<div class="cell" style="left:0.00px;top:111.14px;width:19.53px;height:18.52px;background:#d0c7e9"><i>−0.5</i></div>
<div class="cell" style="left:19.53px;top:111.14px;width:19.53px;height:18.52px;background:#ffffff"></div>
<div class="cell" style="left:39.07px;top:111.14px;width:19.53px;height:18.52px;background:#e4def2"></div>
<div class="cell" style="left:58.60px;top:111.14px;width:19.53px;height:18.52px;background:#ffffff"></div>
<div class="cell" style="left:78.13px;top:111.14px;width:19.53px;height:18.52px;background:#ede9f6"></div>
<div class="cell" style="left:97.67px;top:111.14px;width:19.53px;height:18.52px;background:#fef4ed"></div>
<div class="cell" style="left:117.20px;top:111.14px;width:19.53px;height:18.52px;background:#c6bbe5"><i>−0.6</i></div>
<div class="cell" style="left:136.73px;top:111.14px;width:19.53px;height:18.52px;background:#f2eef9"></div>
<div class="cell" style="left:156.27px;top:111.14px;width:19.53px;height:18.52px;background:#ede9f6"></div>
<div class="cell" style="left:0.00px;top:129.66px;width:19.53px;height:18.52px;background:#b4a7dd"><i>−0.8</i></div>
<div class="cell" style="left:19.53px;top:129.66px;width:19.53px;height:18.52px;background:#7e6ac2"><i>−1.4</i></div>
<div class="cell" style="left:39.07px;top:129.66px;width:19.53px;height:18.52px;background:#ffffff"></div>
<div class="cell" style="left:58.60px;top:129.66px;width:19.53px;height:18.52px;background:#b4a7dd"><i>−0.8</i></div>
<div class="cell" style="left:78.13px;top:129.66px;width:19.53px;height:18.52px;background:#f6f4fb"></div>
<div class="cell" style="left:97.67px;top:129.66px;width:19.53px;height:18.52px;background:#b4a7dd"><i>−0.8</i></div>
<div class="cell" style="left:117.20px;top:129.66px;width:19.53px;height:18.52px;background:#ffffff"></div>
<div class="cell" style="left:136.73px;top:129.66px;width:19.53px;height:18.52px;background:#ffffff"></div>
<div class="cell" style="left:156.27px;top:129.66px;width:19.53px;height:18.52px;background:#fef9f6"></div>
<div class="cell" style="left:0.00px;top:148.18px;width:19.53px;height:18.52px;background:#f6f4fb"></div>
<div class="cell" style="left:19.53px;top:148.18px;width:19.53px;height:18.52px;background:#fffcfa"></div>
<div class="cell" style="left:39.07px;top:148.18px;width:19.53px;height:18.52px;background:#ffffff"></div>
<div class="cell" style="left:58.60px;top:148.18px;width:19.53px;height:18.52px;background:#b4a7dd"><i>−0.8</i></div>
<div class="cell" style="left:78.13px;top:148.18px;width:19.53px;height:18.52px;background:#fef9f6"></div>
<div class="cell" style="left:97.67px;top:148.18px;width:19.53px;height:18.52px;background:#ffffff"></div>
<div class="cell" style="left:117.20px;top:148.18px;width:19.53px;height:18.52px;background:#f1a66e"><i>1.4</i></div>
<div class="cell" style="left:136.73px;top:148.18px;width:19.53px;height:18.52px;background:#ffffff"></div>
<div class="cell" style="left:156.27px;top:148.18px;width:19.53px;height:18.52px;background:#ffffff"></div>
<div class="cell" style="left:0.00px;top:166.71px;width:19.53px;height:18.52px;background:#ffffff"></div>
<div class="cell" style="left:19.53px;top:166.71px;width:19.53px;height:18.52px;background:#f6f4fb"></div>
<div class="cell" style="left:39.07px;top:166.71px;width:19.53px;height:18.52px;background:#6a55b8"><i>−1.6</i></div>
<div class="cell" style="left:58.60px;top:166.71px;width:19.53px;height:18.52px;background:#bcb0e0"><i>−0.7</i></div>
<div class="cell" style="left:78.13px;top:166.71px;width:19.53px;height:18.52px;background:#fef9f6"></div>
<div class="cell" style="left:97.67px;top:166.71px;width:19.53px;height:18.52px;background:#f0a062"><i>1.5</i></div>
<div class="cell" style="left:117.20px;top:166.71px;width:19.53px;height:18.52px;background:#ffffff"></div>
<div class="cell" style="left:136.73px;top:166.71px;width:19.53px;height:18.52px;background:#fadfcc"><i>0.6</i></div>
<div class="cell" style="left:156.27px;top:166.71px;width:19.53px;height:18.52px;background:#f5c6a2"><i>1.0</i></div>
<div class="cell" style="left:0.00px;top:185.23px;width:19.53px;height:18.52px;background:#ede9f6"></div>
<div class="cell" style="left:19.53px;top:185.23px;width:19.53px;height:18.52px;background:#e4def2"></div>
<div class="cell" style="left:39.07px;top:185.23px;width:19.53px;height:18.52px;background:#fbf9fd"></div>
<div class="cell" style="left:58.60px;top:185.23px;width:19.53px;height:18.52px;background:#f4c09a"><i>1.1</i></div>
<div class="cell" style="left:78.13px;top:185.23px;width:19.53px;height:18.52px;background:#d0c7e9"><i>−0.5</i></div>
<div class="cell" style="left:97.67px;top:185.23px;width:19.53px;height:18.52px;background:#ffffff"></div>
<div class="cell" style="left:117.20px;top:185.23px;width:19.53px;height:18.52px;background:#e2853e"><i>2.3</i></div>
<div class="cell" style="left:136.73px;top:185.23px;width:19.53px;height:18.52px;background:#fef6f1"></div>
<div class="cell" style="left:156.27px;top:185.23px;width:19.53px;height:18.52px;background:#f1a66e"><i>1.4</i></div>
<div class="cell" style="left:0.00px;top:203.75px;width:19.53px;height:18.52px;background:#fef4ed"></div>
<div class="cell" style="left:19.53px;top:203.75px;width:19.53px;height:18.52px;background:#fef4ed"></div>
<div class="cell" style="left:39.07px;top:203.75px;width:19.53px;height:18.52px;background:#fef9f6"></div>
<div class="cell" style="left:58.60px;top:203.75px;width:19.53px;height:18.52px;background:#6a55b8"><i>−1.6</i></div>
<div class="cell" style="left:78.13px;top:203.75px;width:19.53px;height:18.52px;background:#ffffff"></div>
<div class="cell" style="left:97.67px;top:203.75px;width:19.53px;height:18.52px;background:#f2ac7b"><i>1.3</i></div>
<div class="cell" style="left:117.20px;top:203.75px;width:19.53px;height:18.52px;background:#e8904a"><i>1.9</i></div>
<div class="cell" style="left:136.73px;top:203.75px;width:19.53px;height:18.52px;background:#ede9f6"></div>
<div class="cell" style="left:156.27px;top:203.75px;width:19.53px;height:18.52px;background:#fef9f6"></div>
<div class="cell" style="left:0.00px;top:222.28px;width:19.53px;height:18.52px;background:#f6f4fb"></div>
<div class="cell" style="left:19.53px;top:222.28px;width:19.53px;height:18.52px;background:#d0c7e9"><i>−0.5</i></div>
<div class="cell" style="left:39.07px;top:222.28px;width:19.53px;height:18.52px;background:#ede9f6"></div>
<div class="cell" style="left:58.60px;top:222.28px;width:19.53px;height:18.52px;background:#f0a062"><i>1.5</i></div>
<div class="cell" style="left:78.13px;top:222.28px;width:19.53px;height:18.52px;background:#ede9f6"></div>
<div class="cell" style="left:97.67px;top:222.28px;width:19.53px;height:18.52px;background:#fadfcc"><i>0.6</i></div>
<div class="cell" style="left:117.20px;top:222.28px;width:19.53px;height:18.52px;background:#f0a062"><i>1.5</i></div>
<div class="cell" style="left:136.73px;top:222.28px;width:19.53px;height:18.52px;background:#ffffff"></div>
<div class="cell" style="left:156.27px;top:222.28px;width:19.53px;height:18.52px;background:#ee9c5c"><i>1.6</i></div>
<div class="gl" style="left:19.03px;top:0;width:1px;height:240.80px"></div>
<div class="gl" style="left:38.57px;top:0;width:1px;height:240.80px"></div>
<div class="gl" style="left:58.10px;top:0;width:1px;height:240.80px"></div>
<div class="gl" style="left:77.63px;top:0;width:1px;height:240.80px"></div>
<div class="gl" style="left:97.17px;top:0;width:1px;height:240.80px"></div>
<div class="gl" style="left:116.70px;top:0;width:1px;height:240.80px"></div>
<div class="gl" style="left:136.23px;top:0;width:1px;height:240.80px"></div>
<div class="gl" style="left:155.77px;top:0;width:1px;height:240.80px"></div>
<div class="gl" style="left:0;top:18.02px;width:175.80px;height:1px"></div>
<div class="gl" style="left:0;top:36.55px;width:175.80px;height:1px"></div>
<div class="gl" style="left:0;top:55.07px;width:175.80px;height:1px"></div>
<div class="gl" style="left:0;top:73.59px;width:175.80px;height:1px"></div>
<div class="gl" style="left:0;top:92.12px;width:175.80px;height:1px"></div>
<div class="gl" style="left:0;top:110.64px;width:175.80px;height:1px"></div>
<div class="gl" style="left:0;top:129.16px;width:175.80px;height:1px"></div>
<div class="gl" style="left:0;top:147.68px;width:175.80px;height:1px"></div>
<div class="gl" style="left:0;top:166.21px;width:175.80px;height:1px"></div>
<div class="gl" style="left:0;top:184.73px;width:175.80px;height:1px"></div>
<div class="gl" style="left:0;top:203.25px;width:175.80px;height:1px"></div>
<div class="gl" style="left:0;top:221.78px;width:175.80px;height:1px"></div>
</div>
<div class="pborder" style="left:98.0px;top:295.0px;width:176.8px;height:241.8px;"></div>
<div class="tickh" style="left:96.0px;top:304.46px;"></div>
<div class="ylab" style="right:634.30px;top:297.06px;">S. pneumoniae</div>
<div class="tickh" style="left:96.0px;top:322.98px;"></div>
<div class="ylab" style="right:634.30px;top:315.58px;">S. maltophilia</div>
<div class="tickh" style="left:96.0px;top:341.51px;"></div>
<div class="ylab" style="right:634.30px;top:334.11px;">S. aureus</div>
<div class="tickh" style="left:96.0px;top:360.03px;"></div>
<div class="ylab" style="right:634.30px;top:352.63px;">R. mannitolilytica</div>
<div class="tickh" style="left:96.0px;top:378.55px;"></div>
<div class="ylab" style="right:634.30px;top:371.15px;">M. catarrhalis</div>
<div class="tickh" style="left:96.0px;top:397.08px;"></div>
<div class="ylab" style="right:634.30px;top:389.68px;">M. avium</div>
<div class="tickh" style="left:96.0px;top:415.60px;"></div>
<div class="ylab" style="right:634.30px;top:408.20px;">M. abscessus</div>
<div class="tickh" style="left:96.0px;top:434.12px;"></div>
<div class="ylab" style="right:634.30px;top:426.72px;">H. influenzae</div>
<div class="tickh" style="left:96.0px;top:452.65px;"></div>
<div class="ylab" style="right:634.30px;top:445.25px;">C. albicans</div>
<div class="tickh" style="left:96.0px;top:471.17px;"></div>
<div class="ylab" style="right:634.30px;top:463.77px;">B. cepacia</div>
<div class="tickh" style="left:96.0px;top:489.69px;"></div>
<div class="ylab" style="right:634.30px;top:482.29px;">A. xylosoxidans</div>
<div class="tickh" style="left:96.0px;top:508.22px;"></div>
<div class="ylab" style="right:634.30px;top:500.82px;">A. fumigatus</div>
<div class="tickh" style="left:96.0px;top:526.74px;"></div>
<div class="ylab" style="right:634.30px;top:519.34px;">A. baumannii</div>
<div class="tickv" style="left:107.77px;top:536.8px;"></div>
<div class="xlab" style="right:621.73px;top:531.90px;">ATM</div>
<div class="tickv" style="left:127.30px;top:536.8px;"></div>
<div class="xlab" style="right:602.20px;top:531.90px;">CAZ</div>
<div class="tickv" style="left:146.83px;top:536.8px;"></div>
<div class="xlab" style="right:582.67px;top:531.90px;">CIP</div>
<div class="tickv" style="left:166.37px;top:536.8px;"></div>
<div class="xlab" style="right:563.13px;top:531.90px;">CST</div>
<div class="tickv" style="left:185.90px;top:536.8px;"></div>
<div class="xlab" style="right:543.60px;top:531.90px;">FOF</div>
<div class="tickv" style="left:205.43px;top:536.8px;"></div>
<div class="xlab" style="right:524.07px;top:531.90px;">MEM</div>
<div class="tickv" style="left:224.97px;top:536.8px;"></div>
<div class="xlab" style="right:504.53px;top:531.90px;">MIN</div>
<div class="tickv" style="left:244.50px;top:536.8px;"></div>
<div class="xlab" style="right:485.00px;top:531.90px;">RIF</div>
<div class="tickv" style="left:264.03px;top:536.8px;"></div>
<div class="xlab" style="right:465.47px;top:531.90px;">TOB</div>
<div style="position:absolute;left:288.5px;top:295.6px;width:176.2px;height:240.60000000000002px;overflow:hidden;">
<div style="position:absolute;left:27.95px;top:0;width:1px;height:100%;background:#e8e8e8"></div>
<div style="position:absolute;left:74.85px;top:0;width:1px;height:100%;background:#e8e8e8"></div>
<div style="position:absolute;left:121.75px;top:0;width:1px;height:100%;background:#e8e8e8"></div>
<div style="position:absolute;left:168.65px;top:0;width:1px;height:100%;background:#e8e8e8"></div>
<div style="position:absolute;left:4.50px;top:0;width:1px;height:100%;background:#c8c8c8"></div>
<div style="position:absolute;left:51.40px;top:0;width:1px;height:100%;background:#c8c8c8"></div>
<div style="position:absolute;left:98.30px;top:0;width:1px;height:100%;background:#c8c8c8"></div>
<div style="position:absolute;left:145.20px;top:0;width:1px;height:100%;background:#c8c8c8"></div>
<div style="position:absolute;left:0;top:10.44px;width:100%;height:1px;background:#cdcdcd"></div>
<div style="position:absolute;left:0;top:28.66px;width:100%;height:1px;background:#cdcdcd"></div>
<div style="position:absolute;left:0;top:46.89px;width:100%;height:1px;background:#cdcdcd"></div>
<div style="position:absolute;left:0;top:65.12px;width:100%;height:1px;background:#cdcdcd"></div>
<div style="position:absolute;left:0;top:83.35px;width:100%;height:1px;background:#cdcdcd"></div>
<div style="position:absolute;left:0;top:101.57px;width:100%;height:1px;background:#cdcdcd"></div>
<div style="position:absolute;left:0;top:119.80px;width:100%;height:1px;background:#cdcdcd"></div>
<div style="position:absolute;left:0;top:138.03px;width:100%;height:1px;background:#cdcdcd"></div>
<div style="position:absolute;left:0;top:156.25px;width:100%;height:1px;background:#cdcdcd"></div>
<div style="position:absolute;left:0;top:174.48px;width:100%;height:1px;background:#cdcdcd"></div>
<div style="position:absolute;left:0;top:192.71px;width:100%;height:1px;background:#cdcdcd"></div>
<div style="position:absolute;left:0;top:210.94px;width:100%;height:1px;background:#cdcdcd"></div>
<div style="position:absolute;left:0;top:229.16px;width:100%;height:1px;background:#cdcdcd"></div>
<div style="position:absolute;left:8.52px;top:2.69px;width:90.28px;height:16.5px;background:#901c54"></div>
<div style="position:absolute;left:48.15px;top:20.91px;width:50.65px;height:16.5px;background:#901c54"></div>
<div style="position:absolute;left:72.54px;top:39.14px;width:26.26px;height:16.5px;background:#901c54"></div>
<div style="position:absolute;left:76.76px;top:57.37px;width:22.04px;height:16.5px;background:#901c54"></div>
<div style="position:absolute;left:82.62px;top:75.60px;width:16.18px;height:16.5px;background:#901c54"></div>
<div style="position:absolute;left:90.59px;top:93.82px;width:8.21px;height:16.5px;background:#9a9a9a"></div>
<div style="position:absolute;left:93.64px;top:112.05px;width:5.16px;height:16.5px;background:#9a9a9a"></div>
<div style="position:absolute;left:98.80px;top:130.28px;width:4.46px;height:16.5px;background:#9a9a9a"></div>
<div style="position:absolute;left:98.80px;top:148.50px;width:8.68px;height:16.5px;background:#9a9a9a"></div>
<div style="position:absolute;left:98.80px;top:166.73px;width:10.55px;height:16.5px;background:#9a9a9a"></div>
<div style="position:absolute;left:98.80px;top:184.96px;width:14.77px;height:16.5px;background:#9a9a9a"></div>
<div style="position:absolute;left:98.80px;top:203.19px;width:39.87px;height:16.5px;background:#6b8e23"></div>
<div style="position:absolute;left:98.80px;top:221.41px;width:68.71px;height:16.5px;background:#6b8e23"></div>
</div>
<div class="pborder" style="left:288.0px;top:295.1px;width:177.2px;height:241.60000000000002px;"></div>
<div class="tickh" style="left:464.7px;top:306.04px;"></div>
<div class="ylab" style="left:468.50px;top:298.54px;text-align:left">A. xylosoxidans</div>
<div class="tickh" style="left:464.7px;top:324.26px;"></div>
<div class="ylab" style="left:468.50px;top:316.76px;text-align:left">A. baumannii</div>
<div class="tickh" style="left:464.7px;top:342.49px;"></div>
<div class="ylab" style="left:468.50px;top:334.99px;text-align:left">B. cepacia</div>
<div class="tickh" style="left:464.7px;top:360.72px;"></div>
<div class="ylab" style="left:468.50px;top:353.22px;text-align:left">M. abcessus</div>
<div class="tickh" style="left:464.7px;top:378.95px;"></div>
<div class="ylab" style="left:468.50px;top:371.45px;text-align:left">S. aureus</div>
<div class="tickh" style="left:464.7px;top:397.17px;"></div>
<div class="ylab" style="left:468.50px;top:389.67px;text-align:left">R. mannitolilytica</div>
<div class="tickh" style="left:464.7px;top:415.40px;"></div>
<div class="ylab" style="left:468.50px;top:407.90px;text-align:left">S. pneumoniae</div>
<div class="tickh" style="left:464.7px;top:433.63px;"></div>
<div class="ylab" style="left:468.50px;top:426.13px;text-align:left">S. maltophilia</div>
<div class="tickh" style="left:464.7px;top:451.85px;"></div>
<div class="ylab" style="left:468.50px;top:444.35px;text-align:left">C. albicans</div>
<div class="tickh" style="left:464.7px;top:470.08px;"></div>
<div class="ylab" style="left:468.50px;top:462.58px;text-align:left">M. catarrhalis</div>
<div class="tickh" style="left:464.7px;top:488.31px;"></div>
<div class="ylab" style="left:468.50px;top:480.81px;text-align:left">M. avium</div>
<div class="tickh" style="left:464.7px;top:506.54px;"></div>
<div class="ylab" style="left:468.50px;top:499.04px;text-align:left">A. fumigatus</div>
<div class="tickh" style="left:464.7px;top:524.76px;"></div>
<div class="ylab" style="left:468.50px;top:517.26px;text-align:left">H. influenzae</div>
<div class="tickv" style="left:293.00px;top:536.2px;"></div>
<div style="position:absolute;left:263.50px;width:60px;text-align:center;top:539.2px;font-size:10px;line-height:12px;color:#4d4d4d">−0.4</div>
<div class="tickv" style="left:339.90px;top:536.2px;"></div>
<div style="position:absolute;left:310.40px;width:60px;text-align:center;top:539.2px;font-size:10px;line-height:12px;color:#4d4d4d">−0.2</div>
<div class="tickv" style="left:386.80px;top:536.2px;"></div>
<div style="position:absolute;left:357.30px;width:60px;text-align:center;top:539.2px;font-size:10px;line-height:12px;color:#4d4d4d">0.0</div>
<div class="tickv" style="left:433.70px;top:536.2px;"></div>
<div style="position:absolute;left:404.20px;width:60px;text-align:center;top:539.2px;font-size:10px;line-height:12px;color:#4d4d4d">0.2</div>
<div style="position:absolute;left:256.60px;width:240px;text-align:center;top:567px;font-size:10.5px;line-height:14px;color:#000;white-space:nowrap">log2(PA μ<sub style="font-size:7.5px;vertical-align:-2.5px;line-height:0">max</sub> CM / PA μ<sub style="font-size:7.5px;vertical-align:-2.5px;line-height:0">max</sub> non−CM)</div>
<div style="position:absolute;left:579.9px;top:229.2px;width:151.10000000000002px;height:20.100000000000023px;background:linear-gradient(to right,#1a0a90 0%,#2e199b 5%,#3f27a7 10%,#553faf 15%,#6956b7 20%,#8c79c9 25%,#af9fdb 30%,#cdc1e8 35%,#ebe5f5 40%,#f5f2fa 45%,#ffffff 50%,#fef4ed 55%,#fde9da 60%,#f9d1b5 65%,#f4bb92 70%,#f2ad7c 75%,#ef9f67 80%,#ec975b 85%,#e98e4d 90%,#e17f37 95%,#d87020 100%)"></div>
<div style="position:absolute;left:579.4px;top:228.7px;width:152.10000000000002px;height:21.100000000000023px;box-sizing:border-box;border:1px solid rgba(90,90,90,0.22)"></div>
<div style="position:absolute;left:595.10px;top:229.2px;width:1px;height:20.100000000000023px;background:rgba(90,90,90,0.2)"></div>
<div style="position:absolute;left:575.60px;width:40px;text-align:center;top:252.5px;font-size:10px;line-height:12px;color:#4d4d4d">−2</div>
<div style="position:absolute;left:624.70px;top:229.2px;width:1px;height:20.100000000000023px;background:rgba(90,90,90,0.2)"></div>
<div style="position:absolute;left:605.20px;width:40px;text-align:center;top:252.5px;font-size:10px;line-height:12px;color:#4d4d4d">−1</div>
<div style="position:absolute;left:654.30px;top:229.2px;width:1px;height:20.100000000000023px;background:rgba(90,90,90,0.2)"></div>
<div style="position:absolute;left:634.80px;width:40px;text-align:center;top:252.5px;font-size:10px;line-height:12px;color:#4d4d4d">0</div>
<div style="position:absolute;left:683.90px;top:229.2px;width:1px;height:20.100000000000023px;background:rgba(90,90,90,0.2)"></div>
<div style="position:absolute;left:664.40px;width:40px;text-align:center;top:252.5px;font-size:10px;line-height:12px;color:#4d4d4d">1</div>
<div style="position:absolute;left:713.50px;top:229.2px;width:1px;height:20.100000000000023px;background:rgba(90,90,90,0.2)"></div>
<div style="position:absolute;left:694.00px;width:40px;text-align:center;top:252.5px;font-size:10px;line-height:12px;color:#4d4d4d">2</div>
<div style="position:absolute;left:594.8px;width:120px;text-align:center;top:216px;font-size:9px;line-height:11px;font-weight:bold;color:#000">log2(PD par. FC)</div>
<div style="position:absolute;left:580.3px;top:278.5px;font-size:9px;line-height:11px;font-weight:bold;color:#000;white-space:nowrap">Interaction effect</div>
<div style="position:absolute;left:580.3px;top:292.40px;width:11.4px;height:10.6px;background:#9a9a9a"></div>
<div style="position:absolute;left:596.4px;top:291.90px;font-size:9px;line-height:11px;color:#000;white-space:nowrap">NS μ<sub style="font-size:6.5px;vertical-align:-2px;line-height:0">max</sub> change</div>
<div style="position:absolute;left:580.3px;top:304.40px;width:11.4px;height:10.6px;background:#901c54"></div>
<div style="position:absolute;left:596.4px;top:303.90px;font-size:9px;line-height:11px;color:#000;white-space:nowrap">PA μ<sub style="font-size:6.5px;vertical-align:-2px;line-height:0">max</sub> decrease</div>
<div style="position:absolute;left:580.3px;top:316.40px;width:11.4px;height:10.6px;background:#6b8e23"></div>
<div style="position:absolute;left:596.4px;top:315.90px;font-size:9px;line-height:11px;color:#000;white-space:nowrap">PA μ<sub style="font-size:6.5px;vertical-align:-2px;line-height:0">max</sub> increase</div>
</body></html>
